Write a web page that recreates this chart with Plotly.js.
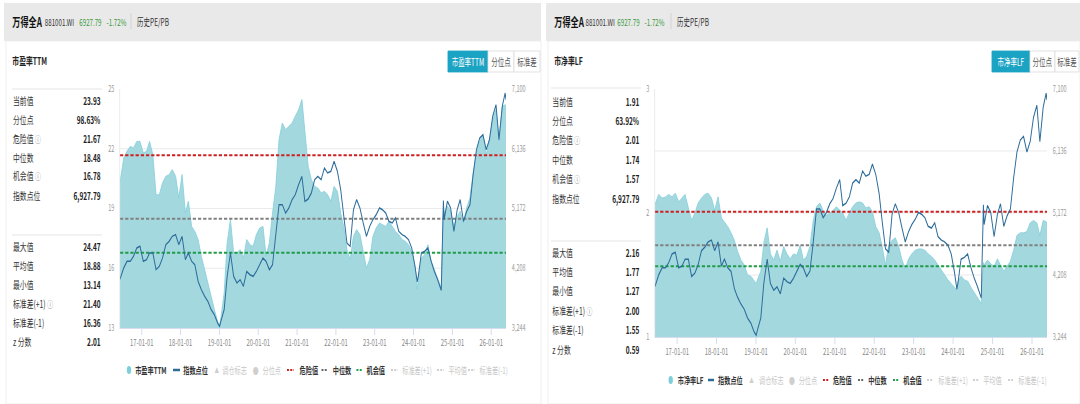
<!DOCTYPE html>
<html>
<head>
<meta charset="utf-8">
<script src="https://cdn.plot.ly/plotly-3.0.1.min.js"></script>
<style>
  html, body { margin: 0; padding: 0; background: #fff; overflow: hidden; width: 1080px; height: 404px; }
  /* the dashboard is laid out wide and condensed horizontally */
  #chart { width: 1662px; height: 404px; transform: scaleX(0.649819); transform-origin: 0 0; }
</style>
</head>
<body>
<div id="chart"></div>
<script>
// ---- series (monthly snapshots plus turning points) ----
const dates = [
  '2016-06-10','2016-07-15','2016-08-15','2016-09-15','2016-10-15','2016-11-15','2016-12-15',
  '2017-01-15','2017-02-15','2017-03-15','2017-04-15','2017-05-15','2017-06-15','2017-07-15','2017-08-15','2017-09-15','2017-10-15','2017-11-15','2017-12-15',
  '2018-01-15','2018-02-15','2018-03-15','2018-04-15','2018-05-15','2018-06-15','2018-07-15','2018-08-15','2018-09-15','2018-10-15','2018-11-15','2018-12-15',
  '2019-01-03','2019-01-15','2019-02-15','2019-03-15','2019-04-15','2019-05-15','2019-06-15','2019-07-15','2019-08-15','2019-09-15','2019-10-15','2019-11-15','2019-12-15',
  '2020-01-15','2020-02-15','2020-03-15','2020-04-15','2020-05-15','2020-06-15','2020-07-15','2020-08-15','2020-09-15','2020-10-15','2020-11-15','2020-12-15',
  '2021-01-15','2021-02-15','2021-03-15','2021-04-15','2021-05-15','2021-06-15','2021-07-15','2021-08-15','2021-09-15','2021-10-15','2021-11-15','2021-12-15',
  '2022-01-15','2022-02-15','2022-03-15','2022-04-15','2022-05-15','2022-06-15','2022-07-15','2022-08-15','2022-09-15','2022-10-15','2022-11-15','2022-12-15',
  '2023-01-15','2023-02-15','2023-03-15','2023-04-15','2023-05-15','2023-06-15','2023-07-15','2023-08-15','2023-09-15','2023-10-15','2023-11-15','2023-12-15',
  '2024-01-15','2024-02-05','2024-02-15','2024-03-15','2024-04-15','2024-05-15','2024-06-15','2024-07-15','2024-08-15','2024-09-18','2024-10-08','2024-10-15','2024-11-15','2024-12-15',
  '2025-01-15','2025-02-15','2025-03-15','2025-04-15','2025-05-15','2025-06-15','2025-07-15','2025-08-15','2025-09-15','2025-10-15','2025-11-15','2025-12-15',
  '2026-01-15','2026-02-15','2026-03-15','2026-04-15','2026-05-12','2026-05-20'
];
// 市盈率TTM
const pe = [
  20.30,21.54,21.87,22.12,22.04,22.37,22.37,
  21.79,21.87,22.37,21.70,19.69,19.69,20.28,20.62,20.70,20.95,20.62,19.53,
  20.70,18.77,19.36,18.10,17.85,17.44,16.60,15.93,15.26,14.51,13.92,13.33,
  13.14,13.50,14.76,17.27,18.44,16.77,16.77,16.93,16.51,17.44,17.18,17.10,17.69,
  18.02,18.10,16.60,17.27,18.77,20.11,22.46,23.29,22.96,23.13,23.29,23.63,
  23.96,24.47,22.79,21.12,20.45,20.11,20.03,19.78,19.86,19.69,19.36,20.11,
  19.86,18.77,18.10,16.93,16.43,17.60,17.94,17.69,16.85,16.01,16.43,17.60,
  18.02,18.27,18.19,18.10,18.36,18.10,17.85,17.69,17.44,17.35,17.18,16.85,
  16.10,14.93,15.43,16.51,16.68,17.18,16.35,15.93,15.51,15.00,18.90,18.77,19.11,18.86,
  18.10,18.61,18.86,18.27,19.03,19.53,20.78,21.79,22.37,22.71,21.70,22.37,
  23.46,23.96,22.40,24.13,24.21,23.93
];
// 市净率LF
const pb = [
  2.07,2.15,2.12,2.13,2.15,2.13,2.16,
  2.09,2.12,2.15,2.04,1.94,2.00,2.08,2.12,2.15,2.16,2.12,2.02,
  2.13,1.96,1.93,1.89,1.84,1.78,1.69,1.62,1.58,1.50,1.49,1.45,
  1.43,1.46,1.53,1.76,1.88,1.67,1.62,1.70,1.61,1.73,1.67,1.63,1.67,
  1.66,1.74,1.62,1.65,1.73,1.94,2.05,2.08,2.02,1.98,2.00,2.02,
  2.05,2.02,2.00,1.94,2.00,2.05,2.08,2.09,2.08,2.04,2.05,2.01,
  1.89,1.84,1.73,1.58,1.74,1.78,1.80,1.73,1.62,1.55,1.63,1.67,
  1.70,1.71,1.71,1.70,1.67,1.65,1.62,1.58,1.54,1.50,1.46,1.43,
  1.40,1.38,1.45,1.49,1.46,1.45,1.40,1.36,1.32,1.27,1.60,1.58,1.62,1.59,
  1.57,1.63,1.58,1.53,1.57,1.61,1.70,1.82,1.84,1.84,1.85,1.92,
  1.94,1.92,1.82,1.94,1.93,1.91
];
// 指数点位
const idx = [
  4030,4212,4320,4320,4400,4535,4562,
  4320,4347,4454,4454,4185,4239,4373,4588,4642,4723,4750,4588,
  4723,4347,4454,4320,4266,3997,3862,3755,3674,3540,3459,3325,
  3270,3352,3540,4078,4454,4078,3970,4024,3916,4158,4104,4078,4158,
  4266,4373,4320,4185,4266,4723,5234,5234,5099,5180,5315,5395,
  5557,5691,5288,5325,5422,5637,5691,5637,5825,5745,5772,5933,
  5772,5476,5046,4615,4562,5153,5315,5180,4938,4723,4884,4992,
  5073,5180,5153,5099,4965,4938,5019,4804,4750,4723,4669,4535,
  4239,3990,4078,4454,4481,4535,4320,4158,4024,3850,5300,4992,5288,5180,
  4804,5153,5315,4965,5126,5234,5718,6121,6309,6363,6121,6283,
  6659,6847,6283,6820,7035,6927.79
];

// ---- axes ----
const yearTicks = ['2017-01-01','2018-01-01','2019-01-01','2020-01-01','2021-01-01','2022-01-01','2023-01-01','2024-01-01','2025-01-01','2026-01-01'];
const yearTickText = ['17-01-01','18-01-01','19-01-01','20-01-01','21-01-01','22-01-01','23-01-01','24-01-01','25-01-01','26-01-01'];
const peTicks = [13, 16, 19, 22, 25];
const pbTicks = [1, 1.5, 2, 2.5, 3];
const pbTickText = ['1', '', '2', '', '3'];
const idxTicks = [3244, 4208, 5172, 6136, 7100];

// ---- side tables ----
const statLabelsTop = ['当前值', '分位点', '危险值', '中位数', '机会值', '指数点位'];
const statLabelsBottom = ['最大值', '平均值', '最小值', '标准差(+1)', '标准差(-1)', 'z 分数'];
const peStatsTop = [23.93, 98.63, 21.67, 18.48, 16.78, 6927.79];
const peStatsBottom = [24.47, 18.88, 13.14, 21.40, 16.36, 2.01];
const pbStatsTop = [1.91, 63.92, 2.01, 1.74, 1.57, 6927.79];
const pbStatsBottom = [2.16, 1.77, 1.27, 2.00, 1.55, 0.59];

// ---- header ----
const headerName = '万得全A';
const headerCode = '881001.WI';
const headerPrice = '6927.79';
const headerChange = '-1.72%';
const headerTab = '历史PE/PB';
const legendNamesPE = ['市盈率TTM', '指数点位', '调仓标志', '分位点', '危险值', '中位数', '机会值', '标准差(+1)', '平均值', '标准差(-1)'];
const legendNamesPB = ['市净率LF', '指数点位', '调仓标志', '分位点', '危险值', '中位数', '机会值', '标准差(+1)', '平均值', '标准差(-1)'];

// ---- styling ----
const FONT = '"Noto Sans CJK SC", "Noto Sans", sans-serif';
const C_AREA = '#a4d8df', C_AREA_LINE = '#86d0dc', C_IDX = '#2c6c9a';
const C_RED = '#cc2020', C_GRAY = '#808080', C_GREEN = '#1f9c48', C_TEAL = '#1ba3c3';

const W = 1080, H = 404;
const X = p => p / W;
const Y = p => 1 - p / H;

const traces = [];
const shapes = [];
const annotations = [];

function fmtStat(v, i, top) {
  if (top && i === 1) return v.toFixed(2) + '%';
  if (top && i === 5) return v.toLocaleString('en-US', {minimumFractionDigits: 2, maximumFractionDigits: 2});
  return v.toFixed(2);
}

function text(x, y, t, opt) {
  opt = opt || {};
  annotations.push({
    xref: 'paper', yref: 'paper', x: X(x), y: Y(y), text: t, showarrow: false,
    xanchor: opt.anchor || 'left', yanchor: 'middle',
    font: {family: FONT, size: opt.size || 10, color: opt.color || '#333', weight: opt.weight || 400}
  });
}
function rect(x0, y0, x1, y1, fill, line) {
  shapes.push({type: 'rect', xref: 'paper', yref: 'paper', x0: X(x0), x1: X(x1), y0: Y(y1), y1: Y(y0),
    fillcolor: fill, line: {width: line ? 1 : 0, color: line || fill}, layer: 'below'});
}
function hline(x0, x1, y, color, width, dash) {
  shapes.push({type: 'line', xref: 'paper', yref: 'paper', x0: X(x0), x1: X(x1), y0: Y(y), y1: Y(y),
    line: {color: color, width: width || 1, dash: dash || 'solid'}});
}

function buildPanel(p) {
  // header band
  rect(p.hx0, 3, p.hx1, 41, '#e9e9e9');
  rect(p.hx0 + 2, 41, p.hx1, 404, '#ffffff', '#ececec');
  text(p.hx0 + 7, 21, '<b>' + headerName + '</b>', {size: 12.5, color: '#111'});
  text(p.codeX, 21.5, headerCode, {size: 9.5, color: '#333'});
  text(p.priceX, 21.5, headerPrice, {size: 9.5, color: '#3a9a3a'});
  text(p.priceX + 27, 21.5, headerChange, {size: 9.5, color: '#3a9a3a'});
  shapes.push({type: 'line', xref: 'paper', yref: 'paper', x0: X(p.tabX - 5), x1: X(p.tabX - 5), y0: Y(13), y1: Y(29),
    line: {color: '#cfcfcf', width: 1}});
  text(p.tabX, 21.5, headerTab, {size: 10, color: '#333'});

  // panel title and toggle buttons
  text(p.hx0 + 7, 60, p.title, {size: 10.5, color: '#222', weight: 600});
  const b = p.buttons;
  rect(b[0], 51, b[1], 72, C_TEAL, C_TEAL);
  rect(b[1], 51, b[2], 72, '#ffffff', '#dcdcdc');
  rect(b[2], 51, b[3], 72, '#ffffff', '#dcdcdc');
  text((b[0] + b[1]) / 2, 61.5, p.title, {size: 10, color: '#fff', anchor: 'center'});
  text((b[1] + b[2]) / 2, 61.5, '分位点', {size: 10, color: '#555', anchor: 'center'});
  text((b[2] + b[3]) / 2, 61.5, '标准差', {size: 10, color: '#555', anchor: 'center'});

  // side table
  const icon = ' <span style="color:#8a8a8a;font-size:9px">ⓘ</span>';
  hline(p.lx, p.vx, p.lineTop, '#e0e0e0', 1);
  hline(p.lx, p.vx, p.lineSep, '#e0e0e0', 1);
  statLabelsTop.forEach((l, i) => {
    const lab = (i === 2 || i === 4) ? l + icon : l;
    text(p.lx, p.rowsTop[i], lab, {size: 10.5, color: '#333'});
    text(p.vx, p.rowsTop[i], '<b>' + fmtStat(p.statsTop[i], i, true) + '</b>', {size: 10, color: '#222', anchor: 'right'});
  });
  statLabelsBottom.forEach((l, i) => {
    const lab = (i === 3) ? l + icon : l;
    text(p.lx, p.rowsBottom[i], lab, {size: 10.5, color: '#333'});
    text(p.vx, p.rowsBottom[i], '<b>' + fmtStat(p.statsBottom[i], i, false) + '</b>', {size: 10, color: '#222', anchor: 'right'});
  });

  // legend row
  const ly = p.legendY;
  const L = p.legend;
  const names = p.legendNames;
  shapes.push({type: 'circle', xref: 'paper', yref: 'paper', x0: X(L[0][0] - 2.2), x1: X(L[0][0] + 2.2),
    y0: Y(ly + 4), y1: Y(ly - 4), fillcolor: '#7fcfdb', line: {width: 0}});
  hline(L[1][0], L[1][1], ly, C_IDX, 2.5);
  text(L[2][0], ly, '▲', {size: 7, color: '#cfcfcf', anchor: 'center'});
  text(L[3][0], ly, '●', {size: 9, color: '#cfcfcf', anchor: 'center'});
  const dashCols = [null, null, null, null, C_RED, '#666', C_GREEN, '#cfcfcf', '#cfcfcf', '#cfcfcf'];
  for (let i = 4; i < 10; i++) hline(L[i][0], L[i][1], ly, dashCols[i], 1.8, '3px,2px');
  const on = [true, true, false, false, true, true, true, false, false, false];
  names.forEach((n, i) => {
    text(L[i][2], ly, on[i] ? '<b>' + n + '</b>' : n, {size: 9.5, color: on[i] ? '#333' : '#c8c8c8'});
  });
}

// left card: PE
buildPanel({
  hx0: 4, hx1: 541, codeX: 43.5, priceX: 78, tabX: 136, title: '市盈率TTM',
  buttons: [448, 488, 514, 540],
  lx: 12, vx: 102, lineTop: 89, lineSep: 235,
  rowsTop: [100, 119, 138, 157, 176, 195], rowsBottom: [246, 265, 284, 303, 322, 341],
  statsTop: peStatsTop, statsBottom: peStatsBottom,
  legendY: 370, legendNames: legendNamesPE,
  legend: [[129, 0, 134], [173, 180, 182], [216.5, 0, 221], [255.5, 0, 261], [287, 294, 298],
           [321.5, 328, 331.5], [356.5, 362.5, 365.5], [391, 398, 401], [437, 444, 447], [468, 475, 478]]
});
// right card: PB
buildPanel({
  hx0: 546, hx1: 1080, codeX: 584.5, priceX: 616, tabX: 676, title: '市净率LF',
  buttons: [992, 1030, 1055, 1079],
  lx: 551, vx: 641, lineTop: 88, lineSep: 241,
  rowsTop: [101, 120, 139, 159, 179, 198], rowsBottom: [252, 271, 290, 310, 329, 349],
  statsTop: pbStatsTop, statsBottom: pbStatsBottom,
  legendY: 380, legendNames: legendNamesPB,
  legend: [[670.7, 0, 676.5], [708, 714, 716.5], [751.7, 0, 757.5], [792, 0, 797.5], [823, 829, 832],
           [858, 864, 867], [893, 899, 902], [927, 933, 937], [973, 979, 982], [1008, 1013, 1017]]
});

// ---- data traces ----
const xFirst = dates[0], xLast = dates[dates.length - 1];
function refLine(v, color, xa, ya) {
  return {x: [xFirst, xLast], y: [v, v], type: 'scatter', mode: 'lines', xaxis: xa, yaxis: ya,
    line: {color: color, width: 2, dash: '5px,3px'}, hoverinfo: 'skip'};
}
// PE panel
traces.push({x: dates, y: pe, type: 'scatter', mode: 'lines', fill: 'tozeroy', fillcolor: C_AREA,
  line: {color: C_AREA_LINE, width: 1}, xaxis: 'x', yaxis: 'y', name: legendNamesPE[0]});
traces.push(refLine(peStatsTop[2], C_RED, 'x', 'y'));
traces.push(refLine(peStatsTop[3], C_GRAY, 'x', 'y'));
traces.push(refLine(peStatsTop[4], C_GREEN, 'x', 'y'));
traces.push({x: dates, y: idx, type: 'scatter', mode: 'lines', line: {color: C_IDX, width: 1.5},
  xaxis: 'x', yaxis: 'y2', name: legendNamesPE[1]});
// PB panel
traces.push({x: dates, y: pb, type: 'scatter', mode: 'lines', fill: 'tozeroy', fillcolor: C_AREA,
  line: {color: C_AREA_LINE, width: 1}, xaxis: 'x2', yaxis: 'y3', name: legendNamesPB[0]});
traces.push(refLine(pbStatsTop[2], C_RED, 'x2', 'y3'));
traces.push(refLine(pbStatsTop[3], C_GRAY, 'x2', 'y3'));
traces.push(refLine(pbStatsTop[4], C_GREEN, 'x2', 'y3'));
traces.push({x: dates, y: idx, type: 'scatter', mode: 'lines', line: {color: C_IDX, width: 1.5},
  xaxis: 'x2', yaxis: 'y4', name: legendNamesPB[1]});

const tickFont = {family: FONT, size: 8.5, color: '#999'};
const idxTickText = idxTicks.map(v => v.toLocaleString('en-US'));
function xAxis(d0, d1, anchor) {
  return {domain: [X(d0), X(d1)], anchor: anchor, type: 'date', range: [xFirst, xLast],
    tickmode: 'array', tickvals: yearTicks, ticktext: yearTickText, ticks: 'outside', ticklen: 6,
    tickcolor: '#ccd6eb', showline: true, linecolor: '#ccd6eb', showgrid: false, zeroline: false,
    tickfont: {family: FONT, size: 9, color: '#888'}, fixedrange: true};
}
function leftAxis(top, bottom, range, vals, txt, anchor) {
  return {domain: [Y(bottom), Y(top)], anchor: anchor, range: range, tickmode: 'array', tickvals: vals,
    ticktext: txt, showgrid: true, gridcolor: '#e6e6e6', zeroline: false, showline: true, linecolor: '#e6e6e6',
    ticks: '', ticklabelstandoff: 6, tickfont: tickFont, fixedrange: true};
}
function rightAxis(over, anchor) {
  return {overlaying: over, anchor: anchor, side: 'right', range: [idxTicks[0], idxTicks[4]], tickmode: 'array',
    tickvals: idxTicks, ticktext: idxTickText, showgrid: false, zeroline: false, showline: false,
    ticks: '', ticklabelstandoff: 8, tickfont: tickFont, fixedrange: true};
}

const layout = {
  width: 1662, height: 404, margin: {l: 0, r: 0, t: 0, b: 0}, autosize: false,
  paper_bgcolor: '#ffffff', plot_bgcolor: 'rgba(0,0,0,0)', showlegend: false,
  xaxis: xAxis(120, 506, 'y'),
  yaxis: leftAxis(89, 328, [peTicks[0], peTicks[4]], peTicks, peTicks.map(String), 'x'),
  yaxis2: rightAxis('y', 'x'),
  xaxis2: xAxis(655, 1047, 'y3'),
  yaxis3: leftAxis(89, 337, [pbTicks[0], pbTicks[4]], pbTicks, pbTickText, 'x2'),
  yaxis4: rightAxis('y3', 'x2'),
  shapes: shapes, annotations: annotations
};

Plotly.newPlot('chart', traces, layout, {staticPlot: true, displayModeBar: false});
</script>
</body>
</html>
